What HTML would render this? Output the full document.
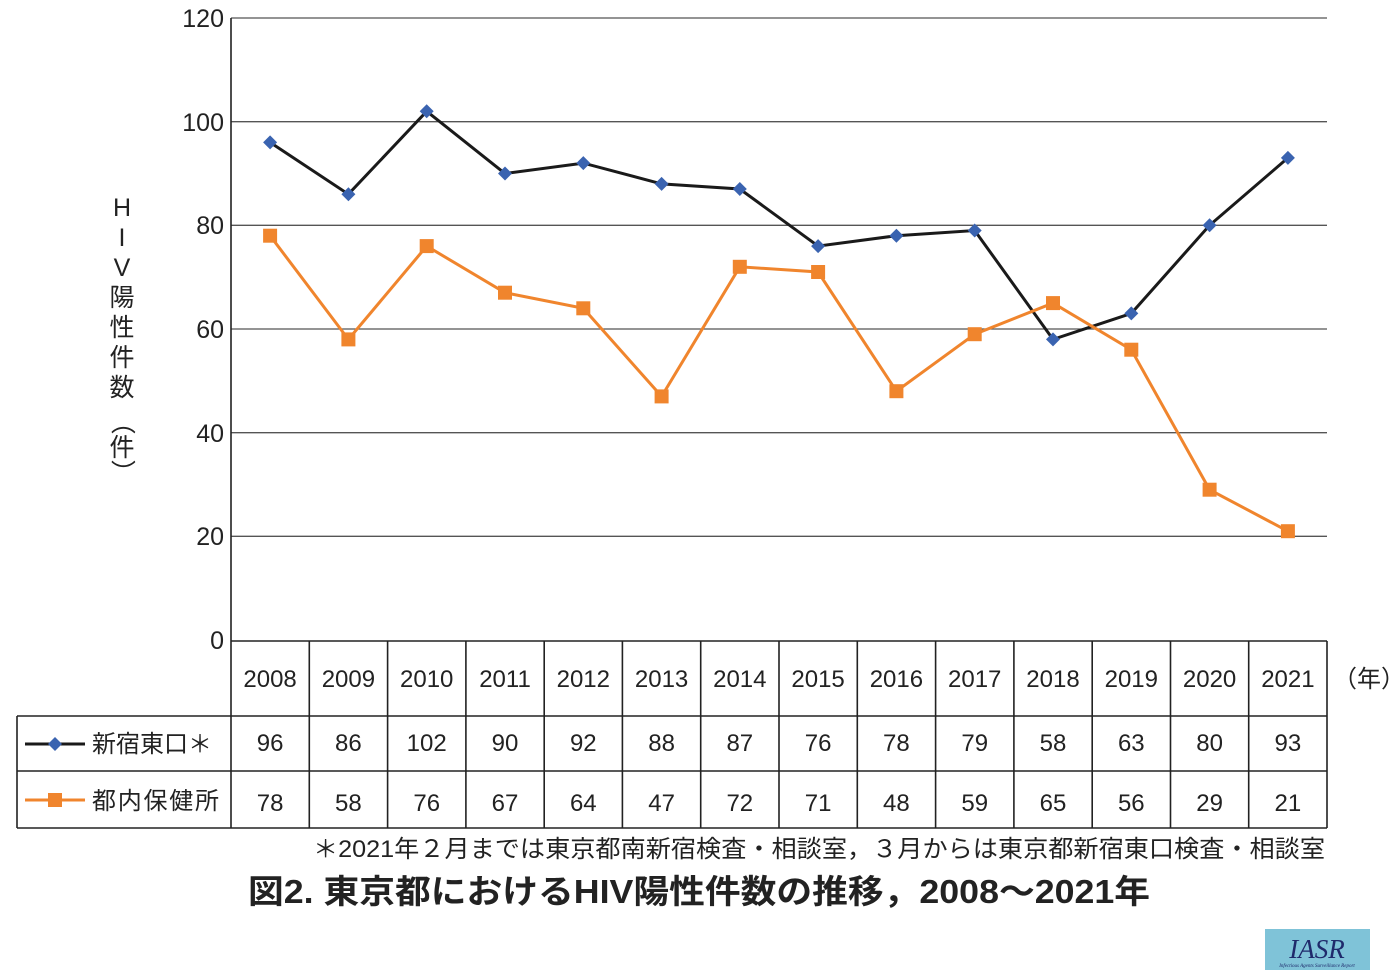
<!DOCTYPE html>
<html><head><meta charset="utf-8"><style>
body{margin:0;background:#fff;}
svg{display:block;font-family:"Liberation Sans","Noto Sans CJK JP",sans-serif;}
</style></head><body>
<svg width="1400" height="979" viewBox="0 0 1400 979" xmlns="http://www.w3.org/2000/svg">
<g stroke="#555" stroke-width="1.3">
<line x1="231" y1="18" x2="1327" y2="18"/>
<line x1="231" y1="121.7" x2="1327" y2="121.7"/>
<line x1="231" y1="225.3" x2="1327" y2="225.3"/>
<line x1="231" y1="329" x2="1327" y2="329"/>
<line x1="231" y1="432.7" x2="1327" y2="432.7"/>
<line x1="231" y1="536.3" x2="1327" y2="536.3"/>
</g>
<g stroke="#222" stroke-width="1.6">
<line x1="231" y1="18" x2="231" y2="828"/>
<line x1="231" y1="641" x2="1327" y2="641"/>
<line x1="17" y1="716" x2="1327" y2="716"/>
<line x1="17" y1="771" x2="1327" y2="771"/>
<line x1="17" y1="828" x2="1327" y2="828"/>
<line x1="17" y1="716" x2="17" y2="828"/>
<line x1="309.3" y1="641" x2="309.3" y2="828"/><line x1="387.6" y1="641" x2="387.6" y2="828"/>
<line x1="465.9" y1="641" x2="465.9" y2="828"/><line x1="544.2" y1="641" x2="544.2" y2="828"/>
<line x1="622.4" y1="641" x2="622.4" y2="828"/><line x1="700.7" y1="641" x2="700.7" y2="828"/>
<line x1="779" y1="641" x2="779" y2="828"/><line x1="857.3" y1="641" x2="857.3" y2="828"/>
<line x1="935.6" y1="641" x2="935.6" y2="828"/><line x1="1013.9" y1="641" x2="1013.9" y2="828"/>
<line x1="1092.2" y1="641" x2="1092.2" y2="828"/><line x1="1170.5" y1="641" x2="1170.5" y2="828"/>
<line x1="1248.7" y1="641" x2="1248.7" y2="828"/><line x1="1327" y1="641" x2="1327" y2="828"/>
</g>
<g font-size="25" fill="#222" text-anchor="end">
<text x="224" y="27">120</text><text x="224" y="131">100</text><text x="224" y="234">80</text>
<text x="224" y="338">60</text><text x="224" y="442">40</text><text x="224" y="545">20</text><text x="224" y="649">0</text>
</g>
<g font-size="25" fill="#222" text-anchor="middle">
<text x="122" y="216">H</text><text x="122" y="246">I</text><text x="122" y="276">V</text>
<text x="122" y="306">陽</text><text x="122" y="336">性</text><text x="122" y="366">件</text><text x="122" y="396">数</text>
<text x="122" y="430" transform="rotate(90 122 422)">（</text><text x="122" y="456">件</text>
<text x="122" y="480" transform="rotate(90 122 472)">）</text>
</g>
<polyline fill="none" stroke="#1a1a1a" stroke-width="3" points="270.1,142.4 348.4,194.2 426.7,111.3 505,173.5 583.3,163.1 661.6,183.9 739.8,189 818.1,246.1 896.4,235.7 974.7,230.5 1053,339.4 1131.3,313.4 1209.6,225.3 1287.9,157.9"/>
<polyline fill="none" stroke="#f0852d" stroke-width="3" points="270.1,235.7 348.4,339.4 426.7,246.1 505,292.7 583.3,308.3 661.6,396.4 739.8,266.8 818.1,272 896.4,391.2 974.7,334.2 1053,303.1 1131.3,349.7 1209.6,489.7 1287.9,531.2"/>
<g fill="#3a63b0">
<path d="M270.1 135.4l7 7-7 7-7-7z"/><path d="M348.4 187.2l7 7-7 7-7-7z"/><path d="M426.7 104.3l7 7-7 7-7-7z"/>
<path d="M505 166.5l7 7-7 7-7-7z"/><path d="M583.3 156.1l7 7-7 7-7-7z"/><path d="M661.6 176.9l7 7-7 7-7-7z"/>
<path d="M739.8 182l7 7-7 7-7-7z"/><path d="M818.1 239.1l7 7-7 7-7-7z"/><path d="M896.4 228.7l7 7-7 7-7-7z"/>
<path d="M974.7 223.5l7 7-7 7-7-7z"/><path d="M1053 332.4l7 7-7 7-7-7z"/><path d="M1131.3 306.4l7 7-7 7-7-7z"/>
<path d="M1209.6 218.3l7 7-7 7-7-7z"/><path d="M1287.9 150.9l7 7-7 7-7-7z"/>
</g>
<g fill="#f0852d">
<rect x="263.1" y="228.7" width="14" height="14"/><rect x="341.4" y="332.4" width="14" height="14"/><rect x="419.7" y="239.1" width="14" height="14"/>
<rect x="498" y="285.7" width="14" height="14"/><rect x="576.3" y="301.3" width="14" height="14"/><rect x="654.6" y="389.4" width="14" height="14"/>
<rect x="732.8" y="259.8" width="14" height="14"/><rect x="811.1" y="265" width="14" height="14"/><rect x="889.4" y="384.2" width="14" height="14"/>
<rect x="967.7" y="327.2" width="14" height="14"/><rect x="1046" y="296.1" width="14" height="14"/><rect x="1124.3" y="342.7" width="14" height="14"/>
<rect x="1202.6" y="482.7" width="14" height="14"/><rect x="1280.9" y="524.2" width="14" height="14"/>
</g>
<line x1="25" y1="744" x2="85" y2="744" stroke="#1a1a1a" stroke-width="3"/>
<line x1="25" y1="800" x2="85" y2="800" stroke="#f0852d" stroke-width="3"/>
<path d="M55 737l7 7-7 7-7-7z" fill="#3a63b0"/>
<rect x="48" y="793" width="14" height="14" fill="#f0852d"/>
<g font-size="24" fill="#222">
<text x="92" y="752" textLength="120">新宿東口＊</text><text x="92" y="809" textLength="127">都内保健所</text>
<text x="1333" y="687">（年）</text>
</g>
<g font-size="24" fill="#222" text-anchor="middle">
<text x="270.1" y="687">2008</text><text x="348.4" y="687">2009</text><text x="426.7" y="687">2010</text><text x="505" y="687">2011</text>
<text x="583.3" y="687">2012</text><text x="661.6" y="687">2013</text><text x="739.8" y="687">2014</text><text x="818.1" y="687">2015</text>
<text x="896.4" y="687">2016</text><text x="974.7" y="687">2017</text><text x="1053" y="687">2018</text><text x="1131.3" y="687">2019</text>
<text x="1209.6" y="687">2020</text><text x="1287.9" y="687">2021</text>
<text x="270.1" y="751">96</text><text x="348.4" y="751">86</text><text x="426.7" y="751">102</text><text x="505" y="751">90</text>
<text x="583.3" y="751">92</text><text x="661.6" y="751">88</text><text x="739.8" y="751">87</text><text x="818.1" y="751">76</text>
<text x="896.4" y="751">78</text><text x="974.7" y="751">79</text><text x="1053" y="751">58</text><text x="1131.3" y="751">63</text>
<text x="1209.6" y="751">80</text><text x="1287.9" y="751">93</text>
<text x="270.1" y="811">78</text><text x="348.4" y="811">58</text><text x="426.7" y="811">76</text><text x="505" y="811">67</text>
<text x="583.3" y="811">64</text><text x="661.6" y="811">47</text><text x="739.8" y="811">72</text><text x="818.1" y="811">71</text>
<text x="896.4" y="811">48</text><text x="974.7" y="811">59</text><text x="1053" y="811">65</text><text x="1131.3" y="811">56</text>
<text x="1209.6" y="811">29</text><text x="1287.9" y="811">21</text>
</g>
<text x="313" y="857" font-size="24" fill="#222" textLength="1012" lengthAdjust="spacingAndGlyphs">＊2021年２月までは東京都南新宿検査・相談室，３月からは東京都新宿東口検査・相談室</text>
<text x="248" y="903" font-size="33" font-weight="bold" fill="#222" textLength="902" lengthAdjust="spacingAndGlyphs">図2. 東京都におけるHIV陽性件数の推移，2008〜2021年</text>
<rect x="1265" y="929" width="105" height="41" fill="#7fc3d8"/>
<text x="1317" y="958" font-family="Liberation Serif,serif" font-style="italic" font-size="27" fill="#1f2a6b" text-anchor="middle">IASR</text>
<text x="1317" y="967" font-family="Liberation Serif,serif" font-style="italic" font-size="5" fill="#1f2a6b" text-anchor="middle">Infectious Agents Surveillance Report</text>
</svg>
</body></html>
